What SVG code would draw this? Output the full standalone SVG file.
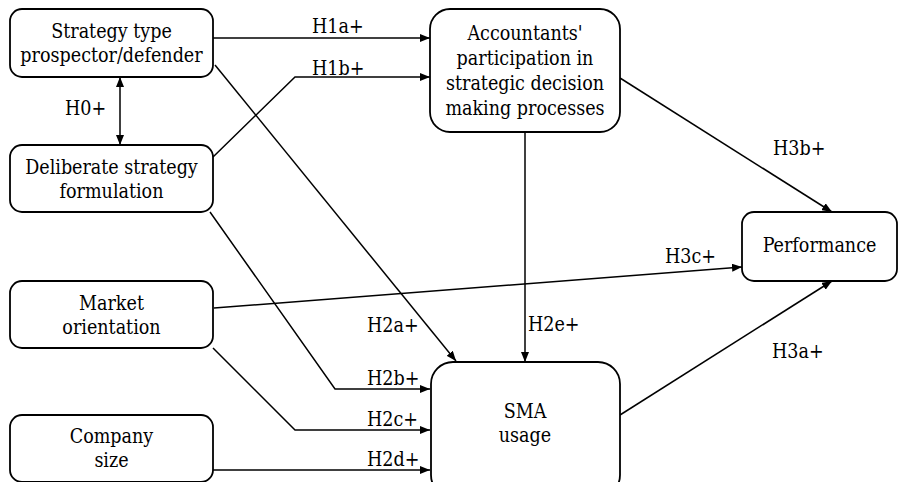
<svg xmlns="http://www.w3.org/2000/svg" width="908" height="482" viewBox="0 0 908 482">
<defs>
<marker id="ah" viewBox="0 0 10 8" refX="10" refY="4" markerWidth="10" markerHeight="8" markerUnits="userSpaceOnUse" orient="auto-start-reverse">
<path d="M0,0 L10,4 L0,8 Z" fill="#000"/>
</marker>
<style>
.box{fill:#fff;stroke:#000;stroke-width:1.8}
.t{font-family:'DejaVu Serif Condensed','DejaVu Serif',serif;font-stretch:condensed;font-size:19.5px;fill:#000;text-anchor:middle}
.l{font-family:'DejaVu Serif Condensed','DejaVu Serif',serif;font-stretch:condensed;font-size:19.5px;fill:#000}
.c{fill:none;stroke:#000;stroke-width:1.5;marker-end:url(#ah)}
</style>
</defs>
<rect width="908" height="482" fill="#fff"/>
<g id="connectors">
<path class="c" d="M213,38 L430,38"/>
<path class="c" d="M213,157 L295,77 L430,77"/>
<path class="c" d="M120,77 L120,145" style="marker-start:url(#ah)"/>
<path class="c" d="M215,65 L456,361"/>
<path class="c" d="M210,212 L335,389 L430,389"/>
<path class="c" d="M213,348 L295,430 L430,430"/>
<path class="c" d="M213,470 L430,470"/>
<path class="c" d="M214,308 L742,267"/>
<path class="c" d="M525,132 L525,362"/>
<path class="c" d="M620,78 L832,212"/>
<path class="c" d="M620,415 L832,281"/>
<text class="l" x="312" y="33">H1a+</text>
<text class="l" x="312" y="75">H1b+</text>
<text class="l" x="65" y="115">H0+</text>
<text class="l" x="367" y="332">H2a+</text>
<text class="l" x="367" y="385">H2b+</text>
<text class="l" x="367" y="426">H2c+</text>
<text class="l" x="367" y="466">H2d+</text>
<text class="l" x="528" y="331">H2e+</text>
<text class="l" x="773" y="155">H3b+</text>
<text class="l" x="665" y="263">H3c+</text>
<text class="l" x="772" y="358">H3a+</text>
</g>
<g id="strategy">
<rect class="box" x="10" y="9" width="203" height="68" rx="12"/>
<text class="t" x="111.5" y="38">Strategy type</text>
<text class="t" x="111.5" y="62">prospector/defender</text>
</g>
<g id="deliberate">
<rect class="box" x="10" y="145" width="203" height="67" rx="12"/>
<text class="t" x="111.5" y="174">Deliberate strategy</text>
<text class="t" x="111.5" y="198">formulation</text>
</g>
<g id="market">
<rect class="box" x="10" y="281" width="203" height="67" rx="12"/>
<text class="t" x="111.5" y="310">Market</text>
<text class="t" x="111.5" y="334">orientation</text>
</g>
<g id="company">
<rect class="box" x="10" y="415" width="203" height="67" rx="12"/>
<text class="t" x="111.5" y="443">Company</text>
<text class="t" x="111.5" y="467">size</text>
</g>
<g id="accountants">
<rect class="box" x="430" y="9" width="190" height="123" rx="20"/>
<text class="t" x="525" y="40">Accountants'</text>
<text class="t" x="525" y="65">participation in</text>
<text class="t" x="525" y="90">strategic decision</text>
<text class="t" x="525" y="115">making processes</text>
</g>
<g id="sma">
<rect class="box" x="431" y="362" width="189" height="135" rx="22"/>
<text class="t" x="525" y="418">SMA</text>
<text class="t" x="525" y="442">usage</text>
</g>
<g id="performance">
<rect class="box" x="742" y="212" width="155" height="69" rx="12"/>
<text class="t" x="819.5" y="252">Performance</text>
</g>
</svg>
